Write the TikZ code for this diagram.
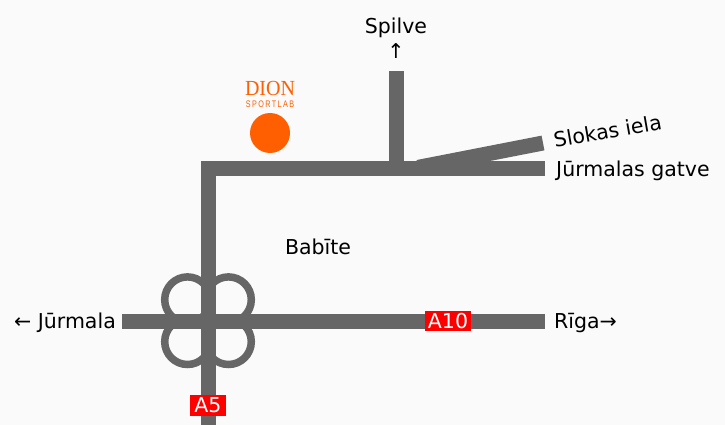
\documentclass[tikz,border=0pt]{standalone}
\usepackage{fontspec}
\setmainfont{DejaVu Sans}
\newfontfamily\dionfont{Liberation Serif}
\newfontfamily\labfont[LetterSpace=20]{Liberation Sans}
\definecolor{roadgrey}{HTML}{666666}
\definecolor{dionorange}{HTML}{FF5F00}
\definecolor{paper}{HTML}{FAFAFA}
\tikzset{
  road/.style={draw=roadgrey,line width=15pt},
  ramp/.style={draw=roadgrey,line width=7.5pt},
  place/.style={inner sep=0pt,font=\fontsize{20.5}{25}\selectfont,text=black},
  shield/.style={fill=red,text=white,inner sep=0pt,font=\fontsize{20.5}{20.5}\selectfont},
}
\begin{document}
\begin{tikzpicture}[x=1pt,y=-1pt]
    \fill[paper] (0,0) rectangle (725,425);
    \useasboundingbox (0,0) rectangle (725,425);
    % ends of the roads
    \coordinate (corner) at (208,168);
    \coordinate (south) at (208,425);
    \coordinate (west) at (122,321);
    \coordinate (east) at (545,321);
    \coordinate (gatve) at (545,168);
    \coordinate (spilvetop) at (396,71);
    \coordinate (spilvefoot) at (396,168);
    \coordinate (slokasfoot) at (418,167.4);
    \coordinate (slokas) at (543,143);
    % clover leaf
    \draw[ramp] (187.5,299.7) circle (22.8pt);
    \draw[ramp] (228.5,299.7) circle (22.8pt);
    \draw[ramp] (187.5,341.7) circle (22.8pt);
    \draw[ramp] (228.5,341.7) circle (22.8pt);
    \draw[road] (south) -- (corner) -- (gatve);
    \draw[road] (west) -- (east);
    \draw[road] (spilvetop) -- (spilvefoot);
    \draw[road] (slokasfoot) -- (slokas);
    \node[shield,minimum width=46pt,minimum height=20pt] (a10) at (448,321) {A10};
    \node[shield,minimum width=36pt,minimum height=21pt] (a5) at (208,405.5) {A5};
    \node[place,align=center] (spilve) at (396,38.5) {Spilve\\↑};
    \node[place,anchor=base west,rotate=10] (slokasiela) at (555,148) {Slokas iela};
    \node[place,anchor=base west] (gatvelabel) at (556,176) {Jūrmalas gatve};
    \node[place,anchor=base] (babite) at (318,254) {Babīte};
    \node[place,anchor=base east] (jurmala) at (116,328) {← Jūrmala};
    \node[place,anchor=base west] (riga) at (554,328) {Rīga→};
    % logo
    \node[fill=dionorange,circle,minimum size=40pt,inner sep=0pt] (dot) at (270,133) {};
    \node[text=dionorange,inner sep=0pt,xscale=.93,transform shape,font=\dionfont\fontsize{21.5}{21.5}\selectfont] (dion) at (270,88) {DION};
    \node[text=dionorange,inner sep=0pt,xscale=.76,transform shape,font=\labfont\fontsize{9.5}{9.5}\selectfont] (sportlab) at (270,104) {SPORTLAB};
\end{tikzpicture}
\end{document}
